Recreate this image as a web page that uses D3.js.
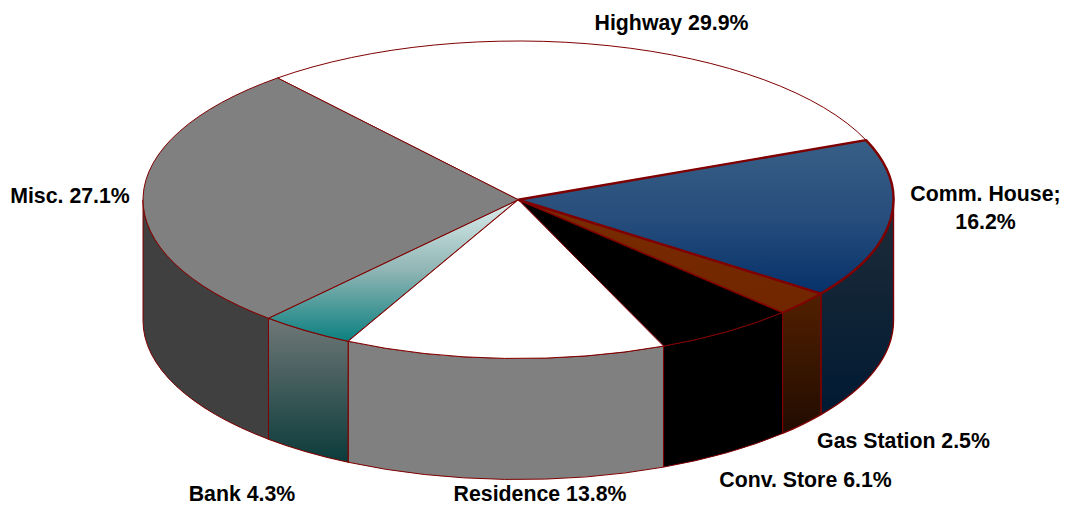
<!DOCTYPE html>
<html><head><meta charset="utf-8">
<script src="https://cdn.jsdelivr.net/npm/d3@7"></script>
<style>html,body{margin:0;padding:0;background:#fff}svg{display:block}</style>
</head><body><svg id="c" width="1066" height="506"></svg>
<script>
const categories=["Highway","Comm. House","Gas Station","Conv. Store","Residence","Bank","Misc."];
const shares=[29.9,16.2,2.5,6.1,13.8,4.3,27.1];
const labels=[["Highway 29.9%"],["Comm. House;","16.2%"],["Gas Station 2.5%"],["Conv. Store 6.1%"],["Residence 13.8%"],["Bank 4.3%"],["Misc. 27.1%"]];
const topFrom=["#ffffff","#385f86","#7a2b00","#000000","#ffffff","#dcefee","#808080"];
const topMid=["#ffffff","#274e7c","#762900","#000000","#ffffff","#8fb5b4","#808080"];
const topTo=["#ffffff","#06316a","#702600","#000000","#ffffff","#0b8080","#808080"];
const sideFrom=["#ffffff","#1f2c38","#521f00","#000000","#808080","#6f7877","#404040"];
const sideTo=["#ffffff","#001a33","#200c00","#000000","#808080","#0c3b3b","#404040"];
const strokeW=[1,2.4,1.6,1,1,1.2,1];
const labelX=[671.5,985.5,903.5,805.5,540,242,70];
const labelY=[30,201,448,487,501.4,501,203];
// small correction of the drawn 3D projection at the end of each slice, in degrees
const endNudge=[0.1,0,0,0,0,-0.7,0];

const W=1066,H=506,depth=121,lineCol="#800000";
const x=d3.scaleLinear().domain([-1,1]).range([143,893.5]);
const y=d3.scaleLinear().domain([-1,1]).range([41,358.5]);
const startDeg=320.1;
const pie=d3.pie().sort(null).startAngle(startDeg*Math.PI/180).endAngle((startDeg+360)*Math.PI/180);
const arcs=pie(shares).map(d=>({...d}));
arcs.forEach((d,i)=>{
  const n=endNudge[i]*Math.PI/180;
  d.endAngle+=n;
  if(i<arcs.length-1) arcs[i+1].startAngle+=n;
});
const px=a=>x(Math.sin(a)), py=a=>y(-Math.cos(a));
const rx=(x(1)-x(-1))/2, ry=(y(1)-y(-1))/2;
const svg=d3.select("#c");
const defs=svg.append("defs");
function grad(id,stops){
  const g=defs.append("linearGradient").attr("id",id).attr("x1",0).attr("y1",0).attr("x2",0).attr("y2",1);
  stops.forEach((c,k)=>g.append("stop").attr("offset",k/(stops.length-1)).attr("stop-color",c));
}
categories.forEach((c,i)=>{grad("t"+i,[topFrom[i],topMid[i],topTo[i]]);grad("s"+i,[sideFrom[i],sideTo[i]]);});

function sideRanges(a0,a1){
  const out=[];
  [[Math.PI/2,3*Math.PI/2],[2.5*Math.PI,3.5*Math.PI]].forEach(([lo,hi])=>{
    const s=Math.max(a0,lo),e=Math.min(a1,hi);
    if(e>s+1e-6) out.push([s,e]);
  });
  return out;
}
const sideG=svg.append("g"), topG=svg.append("g");
arcs.forEach((d,i)=>{
  sideRanges(d.startAngle,d.endAngle).forEach(([s,e])=>{
    const path=`M${px(s)},${py(s)}A${rx},${ry} 0 0 1 ${px(e)},${py(e)}L${px(e)},${py(e)+depth}A${rx},${ry} 0 0 0 ${px(s)},${py(s)+depth}Z`;
    sideG.append("path").attr("d",path).attr("fill",`url(#s${i})`)
      .attr("stroke",lineCol).attr("stroke-width",Math.min(strokeW[i],1.4)).attr("stroke-linejoin","round");
  });
});
const order=[0,3,5,4,6,2,1];
order.forEach(i=>{
  const d=arcs[i],s=d.startAngle,e=d.endAngle;
  const large=(e-s)>Math.PI?1:0;
  const path=`M${x(0)},${y(0)}L${px(s)},${py(s)}A${rx},${ry} 0 ${large} 1 ${px(e)},${py(e)}Z`;
  topG.append("path").attr("d",path).attr("fill",`url(#t${i})`)
    .attr("stroke",lineCol).attr("stroke-width",strokeW[i]).attr("stroke-linejoin","round");
});
labels.forEach((ls,i)=>{
  ls.forEach((t,j)=>{
    svg.append("text").attr("x",labelX[i]).attr("y",labelY[i]+j*28).attr("text-anchor","middle")
      .attr("font-family","'Liberation Sans',Arial,sans-serif").attr("font-weight","bold").attr("font-size",21.3)
      .attr("fill","#000").text(t);
  });
});
</script></body></html>
